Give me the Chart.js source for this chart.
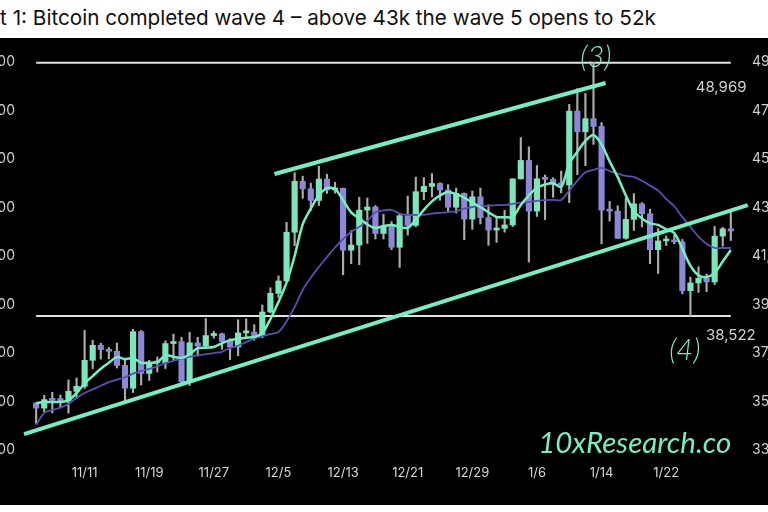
<!DOCTYPE html>
<html>
<head>
<meta charset="utf-8">
<script src="https://cdn.jsdelivr.net/npm/chart.js@4.4.1/dist/chart.umd.min.js"></script>
<style>
  html, body { margin: 0; padding: 0; background: #fff; width: 768px; height: 512px; overflow: hidden; position: relative; }
  #title { position: absolute; top: 5px; left: 0; white-space: nowrap; font: 400 20.7px Inter, sans-serif; color: #111; }
  #chart { position: absolute; left: -50px; top: 38px; background: #000; }
</style>
</head>
<body>
<div id="title"><span id="cut">Char</span>t 1: Bitcoin completed wave 4 – above 43k the wave 5 opens to 52k</div>
<canvas id="chart" width="868" height="467"></canvas>
<script>
// daily candles (index 0 = first candle)
const open = [
  34940, 34730, 35080, 35050, 35040, 35420, 35630, 36700, 37320, 37140,
  37070, 36490, 35550, 37880, 36160, 36600, 36590, 37390, 37470, 35810,
  37420, 37290, 37720, 37790, 37480, 37250, 37830, 37860, 37710, 38690,
  39460, 39970, 41980, 44080, 43770, 43290, 44170, 43720, 43790, 41240,
  41450, 42890, 43020, 41930, 42240, 41360, 42660, 42260, 43650, 43870,
  43990, 43720, 43010, 43580, 42520, 43440, 42580, 42070, 42140, 42280,
  44180, 44940, 42850, 44180, 44160, 43970, 43930, 46970, 46120, 46660,
  46340, 42890, 42850, 41730, 42510, 43150, 42740, 41260, 41620, 41660,
  41580, 39570, 39890, 40080, 39930, 41820, 42120
];
const high = [
  34960, 35260, 35380, 35270, 35890, 35970, 37930, 37520, 37400, 37230,
  37410, 36750, 37980, 37930, 36700, 36840, 37500, 37780, 37650, 37850,
  37650, 38420, 37890, 37820, 37590, 38370, 38410, 38170, 38980, 39690,
  40180, 42390, 44430, 44290, 44000, 44700, 44370, 44040, 43800, 42050,
  43420, 43390, 43080, 42720, 42420, 42720, 43470, 44250, 44230, 44400,
  44020, 43940, 43800, 43600, 43680, 43800, 43110, 42600, 42880, 44180,
  45880, 45500, 44730, 44340, 44230, 44500, 47250, 47900, 47700, 48969,
  46500, 43250, 43070, 43380, 43570, 43200, 42930, 42130, 41820, 41870,
  41680, 40130, 40560, 40260, 42220, 42180, 42820
];
const low = [
  34100, 34580, 34530, 34750, 34520, 35120, 35540, 36350, 36750, 36760,
  36380, 34950, 35370, 35680, 35870, 36220, 36360, 36700, 35760, 35660,
  36880, 37260, 37610, 37150, 36730, 36890, 37620, 37530, 37630, 38650,
  39290, 39960, 41420, 43380, 42880, 43080, 43580, 43590, 40230, 40680,
  40640, 41520, 41700, 41700, 41260, 40530, 41860, 42200, 43320, 43430,
  43300, 42800, 42770, 41670, 42100, 42320, 41440, 41560, 41980, 42210,
  44170, 40750, 42630, 42500, 43420, 43600, 43200, 44350, 44720, 45600,
  41500, 42440, 41720, 41690, 42050, 42200, 40680, 40280, 41430, 41500,
  39440, 38522, 39500, 39530, 39820, 41400, 41640
];
const close = [
  34730, 35080, 35050, 35040, 35420, 35630, 36700, 37320, 37140, 37070,
  36490, 35550, 37880, 36160, 36600, 36590, 37390, 37470, 35810, 37420,
  37290, 37720, 37790, 37480, 37250, 37830, 37860, 37710, 38690, 39460,
  39970, 41980, 44080, 43770, 43290, 44170, 43720, 43790, 41240, 41450,
  42890, 43020, 41930, 42240, 41360, 42660, 42260, 43650, 43870, 43990,
  43720, 43010, 43580, 42520, 43440, 42580, 42070, 42140, 42280, 44180,
  44940, 42850, 44180, 44160, 43970, 43930, 46970, 46120, 46660, 46340,
  42890, 42850, 41730, 42510, 43150, 42740, 41260, 41620, 41660, 41580,
  39570, 39890, 40080, 39930, 41820, 42120, 42030
];

// fast (mint) and slow (purple) moving averages
const maFast = [
  34930, 34980, 34980, 34990, 35050, 35350, 35750, 36050, 36350, 36600,
  36830, 36750, 36790, 36600, 36600, 36630, 36900, 36850, 36800, 36950,
  37200, 37220, 37250, 37400, 37530, 37580, 37630, 37660, 37820, 38400,
  39100, 39900, 41000, 42300, 42950, 43500, 43800, 43760, 43300, 42800,
  42550, 42300, 42150, 42230, 42280, 42200, 42160, 42500, 42900, 43250,
  43500, 43640, 43550, 43400, 43200, 43020, 42800, 42610, 42600, 42620,
  43100, 43500, 43810, 43950, 44000, 43850, 44800, 45300, 45750, 45990,
  45600, 44900, 44250, 43500, 42850, 42550, 42350, 42280, 42100, 41950,
  41300, 40600, 40200, 40130, 40300, 40770, 41250
];
const maSlow = [
  34030, 34530, 34650, 34750, 34900, 35150, 35350, 35500, 35650, 35800,
  35900, 36000, 36150, 36250, 36350, 36450, 36580, 36680, 36760, 36840,
  36900, 36950, 37000, 37050, 37200, 37300, 37450, 37600, 37700, 37780,
  37870, 38300, 38900, 39600, 40100, 40550, 40950, 41350, 41700, 42000,
  42200, 42450, 42800, 42880, 42900, 42750, 42700, 42690, 42700, 42750,
  42780, 42810, 42850, 42950, 43020, 43050, 43080, 43100, 43100, 43150,
  43200, 43230, 43270, 43300, 43310, 43310, 43700, 44100, 44450, 44550,
  44630, 44500, 44400, 44300, 44260, 44100, 43900, 43700, 43350, 43050,
  42600, 42200, 41800, 41500, 41330, 41330, 41330
];

// wave 3 high and wave 4 low
const levels = [48969, 38522];

// channel lines: [day index, price] at each end
const upperTrend = [[29.5, 44380], [70.5, 48130]];
const lowerTrend = [[-1.5, 33660], [88.1, 43100]];

const yTicks = [33000, 35000, 37000, 39000, 41000, 43000, 45000, 47000, 49000];
const tickDays = [6, 14, 22, 30, 38, 46, 54, 62, 70, 78];
const tickLabels = ['11/11', '11/19', '11/27', '12/5', '12/13', '12/21', '12/29', '1/6', '1/14', '1/22'];

const waveNotes = [
  { text: '(3)', x: 69.3, y: 49165 },
  { text: '(4)', x: 80.3, y: 37080 }
];
const levelNoteAt = [[84.8, 47930], [86.0, 37740]];
const brandNote = { text: '10xResearch.co', x: 74.1, y: 33290 };

// title: push the cut-off part out of view
const title = document.getElementById('title');
title.style.left = -document.getElementById('cut').offsetWidth + 'px';

const MINT = '#74efc4';
const UP = '#7be6bb';
const DOWN = '#8d87d8';

const days = close.map((c, i) => i);
const asLine = (arr) => arr.map((p) => ({ x: p[0], y: p[1] }));

const annotations = {
  id: 'annotations',
  afterDatasetsDraw(chart) {
    const ctx = chart.ctx;
    const xs = chart.scales.x;
    const ys = chart.scales.y;
    ctx.save();
    ctx.textAlign = 'center';
    ctx.textBaseline = 'middle';

    ctx.fillStyle = MINT;
    ctx.font = 'italic 300 29px Lato, sans-serif';
    waveNotes.forEach(n => ctx.fillText(n.text, xs.getPixelForValue(n.x), ys.getPixelForValue(n.y)));

    ctx.font = 'italic 400 29.5px Lato, sans-serif';
    ctx.fillText(brandNote.text, xs.getPixelForValue(brandNote.x), ys.getPixelForValue(brandNote.y));

    ctx.fillStyle = '#d2d2d2';
    ctx.font = '400 15px Inter, sans-serif';
    levels.forEach((lv, i) => {
      ctx.fillText(lv.toLocaleString('en-US'), xs.getPixelForValue(levelNoteAt[i][0]), ys.getPixelForValue(levelNoteAt[i][1]));
    });
    ctx.restore();
  }
};

const tickFont = { family: 'Inter, sans-serif', size: 13 };
const noPad = (s) => { s.paddingTop = 0; s.paddingBottom = 0; s.paddingLeft = 0; s.paddingRight = 0; };

new Chart(document.getElementById('chart'), {
  type: 'bar',
  data: {
    datasets: [
      {
        type: 'line', order: 1,
        data: asLine(upperTrend),
        borderColor: MINT, borderWidth: 4, pointRadius: 0
      },
      {
        type: 'line', order: 1,
        data: asLine(lowerTrend),
        borderColor: MINT, borderWidth: 4, pointRadius: 0
      },
      {
        type: 'line', order: 2,
        data: days.map(i => ({ x: i, y: maFast[i] })),
        borderColor: '#72f0c3', borderWidth: 2.5, pointRadius: 0, tension: 0.3
      },
      {
        type: 'line', order: 3,
        data: days.map(i => ({ x: i, y: maSlow[i] })),
        borderColor: '#5a50b0', borderWidth: 1.8, pointRadius: 0, tension: 0.3
      },
      {
        order: 4, grouped: false,
        data: days.map(i => ({ x: i, y: [open[i], close[i]] })),
        backgroundColor: days.map(i => close[i] >= open[i] ? UP : DOWN),
        barThickness: 5.5, minBarLength: 2
      },
      {
        order: 5, grouped: false,
        data: days.map(i => ({ x: i, y: [low[i], high[i]] })),
        backgroundColor: '#acacac',
        barThickness: 1.5
      },
      {
        type: 'line', order: 6,
        data: [{ x: days[0], y: levels[0] }, { x: days[days.length - 1], y: levels[0] }],
        borderColor: '#e2e2e2', borderWidth: 2, pointRadius: 0
      },
      {
        type: 'line', order: 6,
        data: [{ x: days[0], y: levels[1] }, { x: days[days.length - 1], y: levels[1] }],
        borderColor: '#e2e2e2', borderWidth: 2, pointRadius: 0
      }
    ]
  },
  options: {
    responsive: false,
    animation: false,
    layout: { padding: { top: 5, left: 0, right: 0, bottom: 0 } },
    plugins: { legend: { display: false }, tooltip: { enabled: false } },
    scales: {
      x: {
        type: 'linear', min: -2, max: 88.5, offset: false,
        grid: { display: false, drawTicks: false, offset: false }, border: { display: false },
        afterBuildTicks: (s) => { s.ticks = tickDays.map(v => ({ value: v })); },
        afterFit: (s) => { s.height = 45; noPad(s); },
        ticks: {
          color: '#d6d6d6', font: tickFont, padding: 5, maxRotation: 0, autoSkip: false,
          callback: (v) => tickLabels[tickDays.indexOf(v)]
        }
      },
      y: {
        position: 'right', min: 32590, max: 49780,
        grid: { display: false, drawTicks: false }, border: { display: false },
        afterBuildTicks: (s) => { s.ticks = yTicks.map(v => ({ value: v })); },
        afterFit: (s) => { s.width = 67; noPad(s); },
        ticks: { color: '#cfcfcf', font: { family: 'Inter, sans-serif', size: 14 }, padding: 1, callback: (v) => v.toLocaleString('en-US') }
      },
      yL: {
        position: 'left', min: 32590, max: 49780,
        grid: { display: false, drawTicks: false }, border: { display: false },
        afterBuildTicks: (s) => { s.ticks = yTicks.map(v => ({ value: v })); },
        afterFit: (s) => { s.width = 70; noPad(s); },
        ticks: { color: '#cfcfcf', font: { family: 'Inter, sans-serif', size: 14 }, padding: 5, callback: (v) => v.toLocaleString('en-US') }
      }
    }
  },
  plugins: [annotations]
});
</script>
</body>
</html>
